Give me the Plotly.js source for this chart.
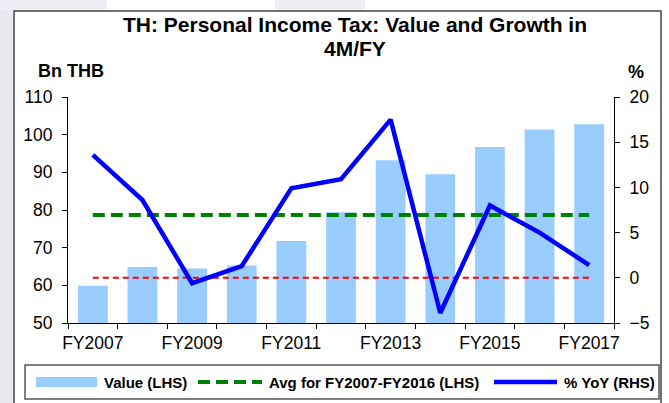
<!DOCTYPE html>
<html>
<head>
<meta charset="utf-8">
<script src="https://cdn.plot.ly/plotly-3.0.1.min.js"></script>
<style>
html,body{margin:0;padding:0;background:#fff;}
#chart{width:669px;height:403px;}
</style>
</head>
<body>
<div id="chart"></div>
<script>
// ---- data ----
const categories = ['FY2007','FY2008','FY2009','FY2010','FY2011','FY2012','FY2013','FY2014','FY2015','FY2016','FY2017'];
const values = [59.9, 64.9, 64.45, 65.25, 71.8, 79.4, 93.2, 89.5, 96.7, 101.4, 102.75];
const yoy = [13.6, 8.6, -0.6, 1.3, 9.9, 10.9, 17.5, -3.9, 8.0, 5.0, 1.4];
const tickLabels = ['FY2007','','FY2009','','FY2011','','FY2013','','FY2015','','FY2017'];
const seriesNames = ['Value (LHS)', 'Avg for FY2007-FY2016 (LHS)', '% YoY (RHS)'];
const titleLines = ['TH: Personal Income Tax: Value and Growth in', '4M/FY'];
const axisTitles = ['Bn THB', '%'];

// average of FY2007-FY2016
const avgBase = values.slice(0, 10);
const avgValue = avgBase.reduce((a, b) => a + b, 0) / avgBase.length;
const avgLine = categories.map(() => avgValue);
const zeroLine = categories.map(() => 0);

// ---- layout helpers (pixel -> paper) ----
const W = 669, H = 403;
const M = {l: 68, r: 55, t: 97, b: 80};
const PW = W - M.l - M.r, PH = H - M.t - M.b;
const px = x => (x - M.l) / PW;
const py = y => (H - M.b - y) / PH;

const FONT = 'Liberation Sans, Arial, Helvetica, sans-serif';
const C_BAR = '#99CCFF', C_AVG = '#008000', C_YOY = '#0000FF', C_ZERO = '#FF0000';

const traces = [
  {type: 'bar', x: categories, y: values, name: seriesNames[0], marker: {color: C_BAR}, yaxis: 'y', showlegend: false, hoverinfo: 'x+y'},
  {type: 'scatter', mode: 'lines', x: categories, y: avgLine, name: seriesNames[1], line: {color: C_AVG, width: 4, dash: '12px,6px'}, yaxis: 'y', showlegend: false},
  {type: 'scatter', mode: 'lines', x: categories, y: zeroLine, name: 'zero', line: {color: C_ZERO, width: 2, dash: '6px,4px'}, yaxis: 'y2', showlegend: false, hoverinfo: 'skip'},
  {type: 'scatter', mode: 'lines', x: categories, y: yoy, name: seriesNames[2], line: {color: C_YOY, width: 4.5}, yaxis: 'y2', showlegend: false}
];

const tickFont = {family: FONT, size: 17.5, color: '#000'};
const boldFont = (s) => ({family: FONT, size: s, color: '#000', weight: 'bold'});

const shapes = [
  // watermark-like background tint at the left edge
  {type: 'rect', xref: 'paper', yref: 'paper', x0: px(0), x1: px(13), y0: py(H + 5), y1: py(-5), fillcolor: '#e9e9f2', line: {width: 0}, layer: 'below'},
  {type: 'rect', xref: 'paper', yref: 'paper', x0: px(0), x1: px(107), y0: py(10), y1: py(-5), fillcolor: '#eeeef5', line: {width: 0}, layer: 'below'},
  {type: 'rect', xref: 'paper', yref: 'paper', x0: px(275), x1: px(365), y0: py(10), y1: py(-5), fillcolor: '#eeeef5', line: {width: 0}, layer: 'below'},
  // outer chart frame
  {type: 'rect', xref: 'paper', yref: 'paper', x0: px(14), x1: px(661), y0: py(H + 10), y1: py(11), fillcolor: '#ffffff', line: {color: '#444', width: 1.5}, layer: 'below'},
  // legend box
  {type: 'rect', xref: 'paper', yref: 'paper', x0: px(25), x1: px(659), y0: py(399), y1: py(365), line: {color: '#555', width: 1.5}},
  // legend swatches
  {type: 'rect', xref: 'paper', yref: 'paper', x0: px(36), x1: px(97), y0: py(387), y1: py(377), fillcolor: C_BAR, line: {width: 0}},
  {type: 'line', xref: 'paper', yref: 'paper', x0: px(198), x1: px(262), y0: py(382), y1: py(382), line: {color: C_AVG, width: 4, dash: '12px,6px'}},
  {type: 'line', xref: 'paper', yref: 'paper', x0: px(494), x1: px(557), y0: py(382), y1: py(382), line: {color: C_YOY, width: 4.5}}
];

const annotations = [
  {text: titleLines[0], xref: 'paper', yref: 'paper', x: px(355), y: py(24), xanchor: 'center', yanchor: 'middle', showarrow: false, font: boldFont(21)},
  {text: titleLines[1], xref: 'paper', yref: 'paper', x: px(355), y: py(49), xanchor: 'center', yanchor: 'middle', showarrow: false, font: boldFont(21)},
  {text: axisTitles[0], xref: 'paper', yref: 'paper', x: px(71), y: py(71), xanchor: 'center', yanchor: 'middle', showarrow: false, font: boldFont(18)},
  {text: axisTitles[1], xref: 'paper', yref: 'paper', x: px(636), y: py(72), xanchor: 'center', yanchor: 'middle', showarrow: false, font: boldFont(18)},
  {text: seriesNames[0], xref: 'paper', yref: 'paper', x: px(102), y: py(382), xanchor: 'left', yanchor: 'middle', showarrow: false, font: boldFont(15)},
  {text: seriesNames[1], xref: 'paper', yref: 'paper', x: px(267), y: py(382), xanchor: 'left', yanchor: 'middle', showarrow: false, font: boldFont(15)},
  {text: seriesNames[2], xref: 'paper', yref: 'paper', x: px(562), y: py(382), xanchor: 'left', yanchor: 'middle', showarrow: false, font: boldFont(15)}
];

const layout = {
  width: W, height: H,
  margin: M,
  paper_bgcolor: '#ffffff',
  plot_bgcolor: 'rgba(0,0,0,0)',
  font: {family: FONT, color: '#000'},
  bargap: 0.4,
  showlegend: false,
  xaxis: {
    type: 'category', tickmode: 'array', tickvals: categories, ticktext: tickLabels,
    tickson: 'boundaries', ticks: 'outside', ticklen: 5, tickcolor: '#000', tickwidth: 1,
    showline: true, linecolor: '#000', linewidth: 1, showgrid: false, zeroline: false,
    tickangle: 0, automargin: false, ticklabelstandoff: 4,
    tickfont: tickFont, fixedrange: true
  },
  yaxis: {
    range: [50, 110], dtick: 10, tick0: 50, ticks: 'outside', ticklen: 5, tickcolor: '#000',
    showline: true, linecolor: '#000', linewidth: 1, showgrid: false, zeroline: false,
    tickfont: tickFont, ticklabelstandoff: 6, fixedrange: true
  },
  yaxis2: {
    overlaying: 'y', side: 'right', range: [-5, 20], dtick: 5, tick0: -5, ticks: 'outside', ticklen: 5, tickcolor: '#000',
    showline: true, linecolor: '#000', linewidth: 1, showgrid: false, zeroline: false,
    tickfont: tickFont, ticklabelstandoff: 6, fixedrange: true
  },
  shapes: shapes,
  annotations: annotations
};

Plotly.newPlot('chart', traces, layout, {staticPlot: true, displayModeBar: false});
</script>
</body>
</html>
